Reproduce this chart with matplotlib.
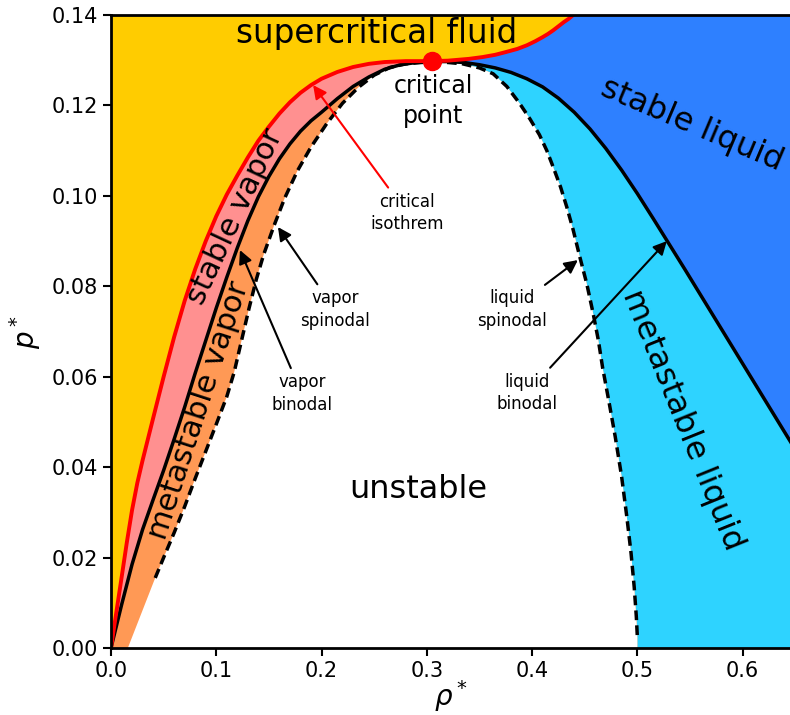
import numpy as np
import matplotlib
matplotlib.use('Agg')
import matplotlib.pyplot as plt

# critical point (rho*, p*)
rho_c, p_c = 0.305, 0.1298

# critical isotherm
iso_rho = [0.0, 0.005, 0.010, 0.015, 0.020, 0.025, 0.030, 0.040, 0.050, 0.060,
           0.070, 0.080, 0.090, 0.100, 0.110, 0.120, 0.130, 0.140, 0.150, 0.160,
           0.170, 0.180, 0.190, 0.200, 0.215, 0.230, 0.245, 0.260, 0.280, 0.305,
           0.320, 0.330, 0.340, 0.353, 0.365, 0.375, 0.386, 0.395, 0.403, 0.410,
           0.415, 0.420, 0.425, 0.430, 0.435, 0.439, 0.445]
iso_p = [0.0, 0.0078, 0.0155, 0.0233, 0.0305, 0.0365, 0.0415, 0.0508, 0.0600, 0.0688,
         0.0768, 0.0838, 0.0900, 0.0955, 0.1003, 0.1045, 0.1085, 0.1122, 0.1153, 0.1182,
         0.1207, 0.1228, 0.1245, 0.1259, 0.1274, 0.1285, 0.1292, 0.1296, 0.1298, 0.1298,
         0.1299, 0.1301, 0.1303, 0.1307, 0.1312, 0.1318, 0.1325, 0.1333, 0.1342, 0.1351,
         0.1358, 0.1366, 0.1375, 0.1384, 0.1392, 0.1400, 0.1411]

# binodal: vapor branch and liquid branch
vbin_rho = [0.0, 0.010, 0.020, 0.030, 0.040, 0.050, 0.060, 0.070, 0.080, 0.090,
            0.100, 0.110, 0.120, 0.130, 0.140, 0.150, 0.160, 0.170, 0.180, 0.190,
            0.200, 0.215, 0.230, 0.245, 0.260, 0.275, 0.290, 0.305]
vbin_p = [0.0, 0.0095, 0.0185, 0.0262, 0.0328, 0.0393, 0.0462, 0.0533, 0.0608, 0.0680,
          0.0752, 0.0820, 0.0885, 0.0945, 0.0998, 0.1043, 0.1082, 0.1115, 0.1143, 0.1166,
          0.1185, 0.1215, 0.1242, 0.1263, 0.1280, 0.1290, 0.1295, 0.1297]
lbin_rho = [0.305, 0.320, 0.335, 0.350, 0.365, 0.380, 0.395, 0.410, 0.425, 0.440,
            0.455, 0.470, 0.485, 0.500, 0.515, 0.530, 0.545, 0.560, 0.575, 0.590,
            0.605, 0.620, 0.635, 0.650]
lbin_p = [0.1297, 0.1297, 0.1295, 0.1290, 0.1283, 0.1273, 0.1259, 0.1241, 0.1216, 0.1185,
          0.1148, 0.1105, 0.1057, 0.1005, 0.0950, 0.0894, 0.0838, 0.0781, 0.0724, 0.0667,
          0.0610, 0.0553, 0.0496, 0.0439]

# spinodal: vapor branch and liquid branch
vspin_rho = [0.016, 0.042, 0.050, 0.060, 0.070, 0.080, 0.090, 0.100, 0.110, 0.117,
             0.124, 0.131, 0.138, 0.145, 0.155, 0.165, 0.177, 0.190, 0.205, 0.220,
             0.235, 0.250, 0.265, 0.280, 0.295, 0.305]
vspin_p = [0.0, 0.0155, 0.0200, 0.0255, 0.0313, 0.0375, 0.0435, 0.0495, 0.0556, 0.0610,
           0.0680, 0.0750, 0.0815, 0.0870, 0.0935, 0.0995, 0.1055, 0.1108, 0.1160, 0.1205,
           0.1240, 0.1267, 0.1284, 0.1292, 0.1295, 0.1296]
lspin_rho = [0.305, 0.320, 0.334, 0.350, 0.363, 0.376, 0.388, 0.398, 0.407, 0.414,
             0.420, 0.427, 0.433, 0.439, 0.445, 0.452, 0.458, 0.463, 0.467, 0.473,
             0.479, 0.485, 0.490, 0.494, 0.497, 0.499, 0.500, 0.500]
lspin_p = [0.1296, 0.1295, 0.1292, 0.1283, 0.1270, 0.1242, 0.1205, 0.1170, 0.1135, 0.1100,
           0.1064, 0.1020, 0.0975, 0.0925, 0.0868, 0.0805, 0.0740, 0.0680, 0.0620, 0.0545,
           0.0467, 0.0380, 0.0290, 0.0210, 0.0135, 0.0070, 0.0024, 0.0]

c_yellow = '#FFCC00'
c_pink = '#FF9090'
c_orange = '#FF9955'
c_cyan = '#2ED3FF'
c_blue = '#2E80FF'

xmax, ymax = 0.645, 0.14

fig = plt.figure(figsize=(7.9, 7.15), dpi=100)
ax = fig.add_axes([111/790, 67/715, 1 - 111/790, 633/715])
ax.set_facecolor(c_yellow)

ic = iso_rho.index(rho_c)
# below the whole isotherm -> pink
px = iso_rho + [xmax + 0.05, xmax + 0.05]
py = iso_p + [ymax + 0.01, -0.01]
ax.fill(px, py, color=c_pink, lw=0, zorder=1)
# right of isotherm, above liquid binodal -> blue
px = iso_rho[ic:] + [xmax + 0.05] + lbin_rho[::-1]
py = iso_p[ic:] + [ymax + 0.01] + lbin_p[::-1]
ax.fill(px, py, color=c_blue, lw=0, zorder=2)
# below binodal -> orange
px = vbin_rho + lbin_rho[1:] + [lbin_rho[-1], 0.0]
py = vbin_p + lbin_p[1:] + [-0.01, -0.01]
ax.fill(px, py, color=c_orange, lw=0, zorder=3)
# between liquid spinodal and liquid binodal -> cyan
px = lspin_rho + [lbin_rho[-1]] + lbin_rho[::-1]
py = lspin_p + [-0.01] + lbin_p[::-1]
ax.fill(px, py, color=c_cyan, lw=0, zorder=4)
# inside spinodal -> white
px = vspin_rho + lspin_rho[1:]
py = vspin_p + lspin_p[1:]
ax.fill(px, py, color='white', lw=0, zorder=5)

# lines
dash = (0, (2.8, 1.5))
ax.plot(vbin_rho, vbin_p, color='k', lw=2.5, zorder=6)
ax.plot(lbin_rho, lbin_p, color='k', lw=2.5, zorder=6)
ax.plot(vspin_rho[1:], vspin_p[1:], color='k', lw=2.5, ls=dash, zorder=6)
ax.plot(lspin_rho[:-1], lspin_p[:-1], color='k', lw=2.5, ls=dash, zorder=6)
ax.plot(iso_rho, iso_p, color='red', lw=2.8, zorder=7)
ax.plot([rho_c], [p_c], 'o', color='red', ms=13, zorder=8, clip_on=False)

# region labels
big = 23
ax.text(0.252, 0.1358, 'supercritical fluid', fontsize=23.5, ha='center', va='center', zorder=9)
ax.text(0.2915, 0.035, 'unstable', fontsize=big, ha='center', va='center', zorder=9)
ax.text(0.306, 0.121, 'critical\npoint', fontsize=17, ha='center', va='center',
        linespacing=1.3, zorder=9)
ax.text(0.1175, 0.0955, 'stable vapor', fontsize=22, ha='center', va='center',
        rotation=65, rotation_mode='anchor', zorder=9)
ax.text(0.0835, 0.0525, 'metastable vapor', fontsize=22, ha='center', va='center',
        rotation=72, rotation_mode='anchor', zorder=9)
ax.text(0.552, 0.1157, 'stable liquid', fontsize=big, ha='center', va='center',
        rotation=-23, rotation_mode='anchor', zorder=9)
ax.text(0.543, 0.0504, 'metastable liquid', fontsize=big, ha='center', va='center',
        rotation=-68, rotation_mode='anchor', zorder=9)

# annotations
small = 12
ann = [('critical\nisothrem', (0.192, 0.1245), (0.281, 0.0962), 'red'),
       ('vapor\nspinodal', (0.1586, 0.0931), (0.2127, 0.0748), 'k'),
       ('vapor\nbinodal', (0.1225, 0.088), (0.1814, 0.0562), 'k'),
       ('liquid\nspinodal', (0.4435, 0.0858), (0.3808, 0.0748), 'k'),
       ('liquid\nbinodal', (0.528, 0.0900), (0.395, 0.0564), 'k')]
for txt, tip, pos, col in ann:
    ax.annotate(txt, xy=tip, xytext=pos, fontsize=small, ha='center', va='center',
                linespacing=1.35, zorder=9,
                arrowprops=dict(arrowstyle='-|>', color=col, lw=1.5,
                                mutation_scale=20, shrinkA=2, shrinkB=0))

ax.set_xlim(0, xmax)
ax.set_ylim(0, ymax)
ax.set_xticks(np.arange(0, 0.61, 0.1))
ax.set_yticks(np.arange(0, 0.141, 0.02))
ax.set_xticklabels(['%.1f' % v for v in np.arange(0, 0.61, 0.1)])
ax.set_yticklabels(['%.2f' % v for v in np.arange(0, 0.141, 0.02)])
ax.tick_params(labelsize=15, width=1.5, length=6)
for s in ['left', 'bottom', 'top']:
    ax.spines[s].set_linewidth(2)
    ax.spines[s].set_zorder(10)
ax.spines['right'].set_visible(False)
ax.set_xlabel(r'$\rho^*$', fontsize=20, labelpad=-2)
ax.set_ylabel(r'$p^*$', fontsize=20, labelpad=6)

plt.savefig('out.png', dpi=100)
